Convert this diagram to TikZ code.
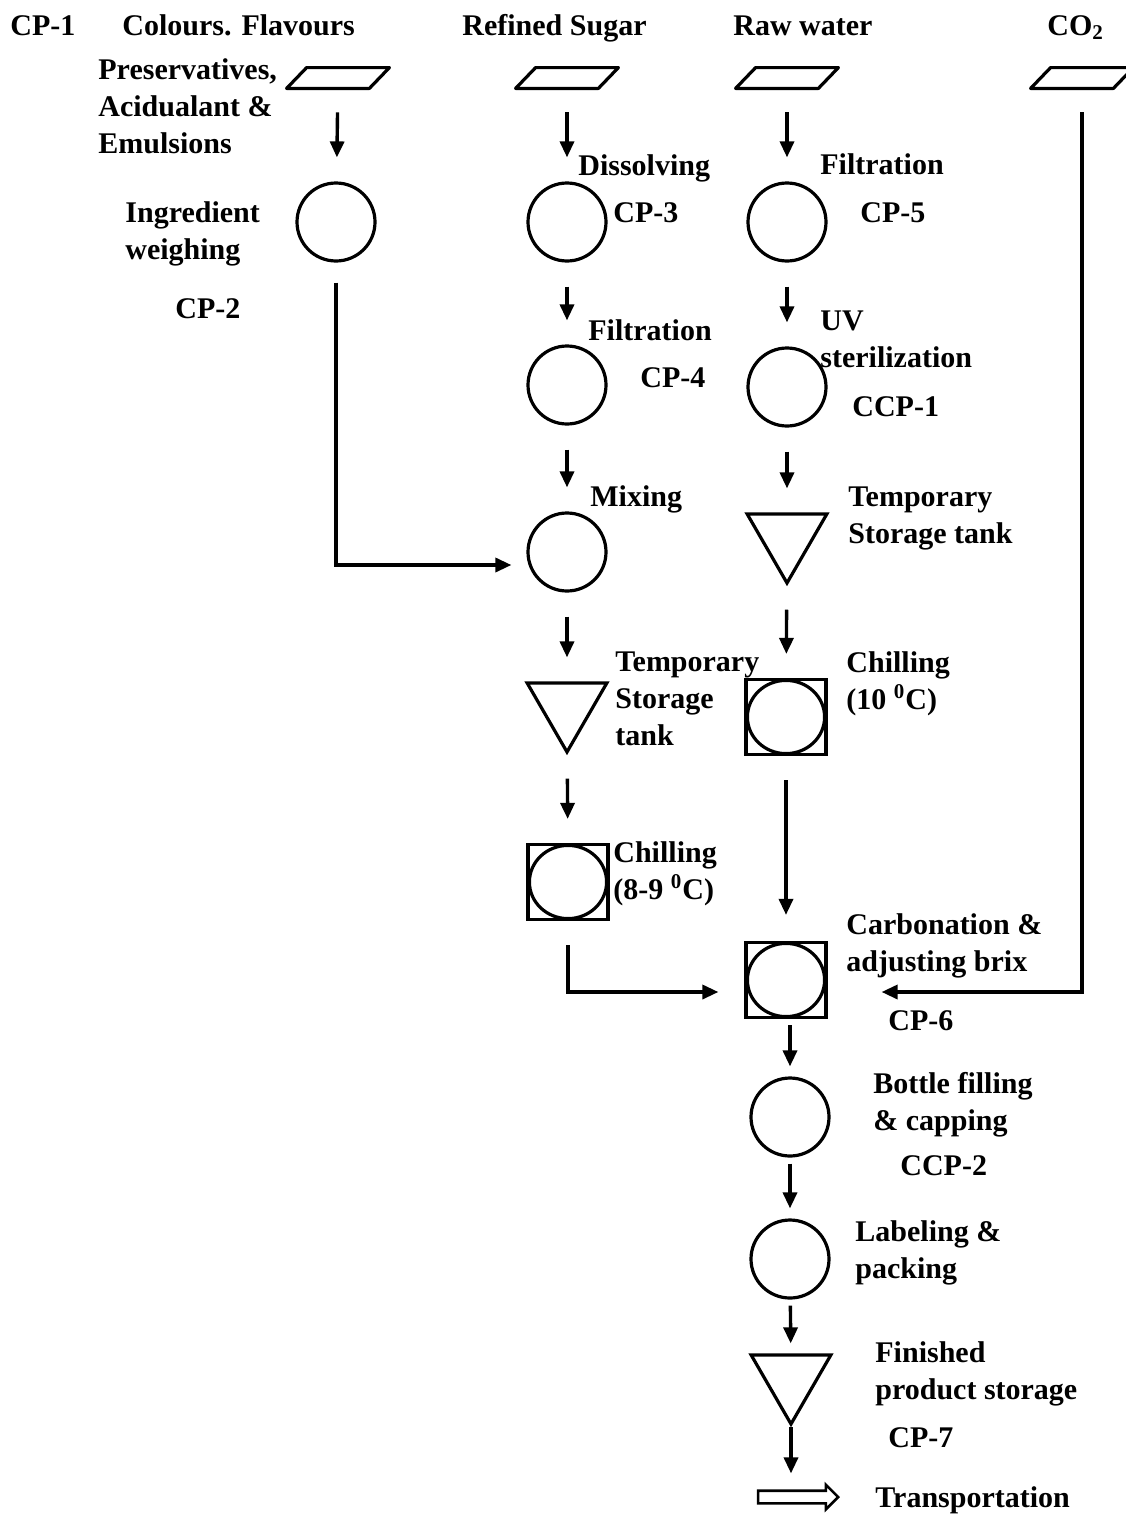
\documentclass[tikz,border=0pt]{standalone}
\usepackage{fontspec}
\setmainfont{Liberation Serif}
\usetikzlibrary{arrows.meta,shapes.geometric,shapes.arrows}

\tikzset{
  lbl/.style={anchor=base west,align=left,inner sep=0pt},
  supply/.style={rectangle,minimum width=41pt,minimum height=10pt,inner sep=0pt},
  op/.style={draw,circle,minimum size=39pt,inner sep=0pt,line width=1.6pt},
  tank/.style={draw,regular polygon,regular polygon sides=3,shape border rotate=180,minimum size=46pt,inner sep=0pt,line width=1.6pt},
  chill/.style={draw,rectangle,minimum width=40pt,minimum height=37.5pt,inner sep=0pt,line width=1.6pt,
    path picture={\draw[line width=1.6pt] (path picture bounding box.center) ellipse (19.3pt and 18.3pt);}},
  flow/.style={line width=1.7pt,-{Triangle[length=8pt,width=7pt]},shorten <=12pt,shorten >=12pt},
  near/.style={shorten <=3pt,shorten >=5pt}
}

\begin{document}
\begin{tikzpicture}[x=0.5pt,y=-0.5pt,font=\fontsize{15}{18.3}\selectfont\bfseries]
\useasboundingbox (0,0) rectangle (1125,1515);

\node[lbl] (cp1) at (10,35) {CP-1};
\node[lbl] (hColour) at (122,35) {Colours. Flavours};
\node[lbl] (hSugar) at (462,35) {Refined Sugar};
\node[lbl] (hWater) at (733,35) {Raw water};
\node[lbl] (hCO) at (1047,35) {CO\textsubscript{2}};

\node[supply] (inColour) at (338,78) {};
\node[supply] (inSugar) at (567,78) {};
\node[supply] (inWater) at (787,78) {};
\node[supply] (inCO) at (1082,78) {};
\foreach \n in {inColour,inSugar,inWater,inCO}
  \draw[line width=1.6pt,line join=round] ([xshift=-5pt]\n.south west) -- ([xshift=5pt]\n.north west)
    -- ([xshift=5pt]\n.north east) -- ([xshift=-5pt]\n.south east) -- cycle;
\node[lbl] (tColour) at (98,153) {Preservatives,\\Acidualant \&\\Emulsions};

\node[op] (weigh) at (336,222) {};
\node[lbl] (tWeigh) at (125,259) {Ingredient\\weighing};
\node[lbl] (cp2) at (175,318) {CP-2};

\node[op] (dissolve) at (567,222) {};
\node[lbl] (tDissolve) at (578,175) {Dissolving};
\node[lbl] (cp3) at (613,222) {CP-3};
\node[op] (filterS) at (567,385) {};
\node[lbl] (tFilterS) at (588,340) {Filtration};
\node[lbl] (cp4) at (640,387) {CP-4};
\node[op] (mix) at (567,552) {};
\node[lbl] (tMix) at (590,506) {Mixing};
\node[tank] (tankS) at (567,706) {};
\node[lbl] (tTankS) at (615,745) {Temporary\\Storage\\tank};
\node[chill] (chillS) at (568,882) {};
\node[lbl] (tChillS) at (613,899) {Chilling\\(8-9 \textsuperscript{0}C)};

\node[op] (filterW) at (787,222) {};
\node[lbl] (tFilterW) at (820,174) {Filtration};
\node[lbl] (cp5) at (860,222) {CP-5};
\node[op] (uv) at (787,387) {};
\node[lbl] (tUv) at (820,367) {UV\\sterilization};
\node[lbl] (ccp1) at (852,416) {CCP-1};
\node[tank] (tankW) at (787,537) {};
\node[lbl] (tTankW) at (848,543) {Temporary\\Storage tank};
\node[chill] (chillW) at (786,717) {};
\node[lbl] (tChillW) at (846,709) {Chilling\\(10 \textsuperscript{0}C)};

\node[chill] (carb) at (786,980) {};
\node[lbl] (tCarb) at (846,971) {Carbonation \&\\adjusting brix};
\node[lbl] (cp6) at (888,1030) {CP-6};
\node[op] (fill) at (790,1117) {};
\node[lbl] (tFill) at (873,1130) {Bottle filling\\\& capping};
\node[lbl] (ccp2) at (900,1175) {CCP-2};
\node[op] (pack) at (790,1259) {};
\node[lbl] (tPack) at (855,1278) {Labeling \&\\packing};
\node[tank] (store) at (791,1378) {};
\node[lbl] (tStore) at (875,1399) {Finished\\product storage};
\node[lbl] (cp7) at (888,1447) {CP-7};
\node[draw,single arrow,minimum height=40pt,single arrow head extend=3pt,inner sep=2.5pt,line width=1.3pt] (transport) at (795,1497) {};
\node[lbl] (tTransport) at (875,1507) {Transportation};

\draw[flow] (inColour) -- (weigh);
\draw[flow] (inSugar) -- (dissolve);
\draw[flow] (dissolve) -- (filterS);
\draw[flow] (filterS) -- (mix);
\draw[flow] (mix) -- (tankS);
\draw[flow] (tankS) -- (chillS);
\draw[flow,shorten <=10pt,shorten >=7.5pt] (weigh) |- ([yshift=-6.5pt]mix.west);
\draw[flow,shorten >=13pt] (chillS) |- ([yshift=-6pt]carb.west);

\draw[flow] (inWater) -- (filterW);
\draw[flow] (filterW) -- (uv);
\draw[flow] (uv) -- (tankW);
\draw[flow] (tankW) -- (chillW);
\draw[flow,shorten >=13pt] (chillW) -- (carb);
\draw[flow,shorten >=27pt] (inCO) |- ([yshift=-6pt]carb.east);

\draw[flow,near] (carb.south -| fill) -- (fill);
\draw[flow,near] (fill) -- (pack);
\draw[flow,near] (pack) -- (store);
\draw[flow,shorten <=0pt,shorten >=8pt] (store) -- (transport.north -| store);

\end{tikzpicture}
\end{document}
